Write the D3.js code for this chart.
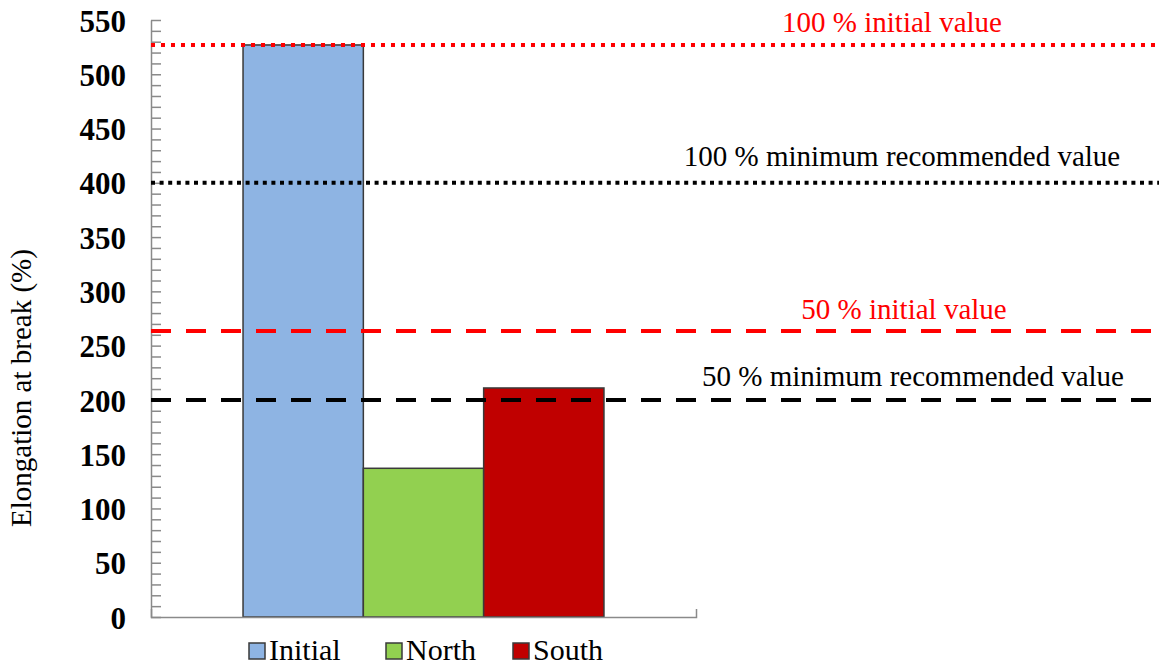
<!DOCTYPE html>
<html>
<head>
<meta charset="utf-8">
<script src="https://cdn.jsdelivr.net/npm/d3@7"></script>
<style>
  html, body { margin: 0; padding: 0; background: #fff; }
  svg { display: block; }
</style>
</head>
<body>
<svg id="chart" width="1159" height="667"></svg>
<script>
// ---- data ----
const categories = ["Initial", "North", "South"];
const values = [527, 137, 211];
const refLabels = ["100 % initial value", "100 % minimum recommended value", "50 % initial value", "50 % minimum recommended value"];
const refValues = [527, 400, 263.5, 200];
const yTickLabels = [0, 50, 100, 150, 200, 250, 300, 350, 400, 450, 500, 550];
const yTitle = "Elongation at break (%)";

// ---- font detection (pick an installed Times-like serif) ----
function pickFont(cands) {
  const c = document.createElement("canvas").getContext("2d");
  const s = "mmmmmmmmmmlli100 % WwQq";
  const base = {};
  ["monospace", "sans-serif"].forEach(b => { c.font = "40px " + b; base[b] = c.measureText(s).width; });
  for (const f of cands) {
    let ok = false;
    for (const b of ["monospace", "sans-serif"]) {
      c.font = `40px "${f}", ${b}`;
      if (Math.abs(c.measureText(s).width - base[b]) > 0.5) ok = true;
    }
    if (ok) return `"${f}"`;
  }
  return "serif";
}
const FONT = pickFont(["Liberation Serif", "Tinos", "Times New Roman", "Nimbus Roman", "Nimbus Roman No9 L", "Noto Serif", "DejaVu Serif"]);

// ---- styles / layout ----
const barColors = ["#8EB4E3", "#92D050", "#C00000"];
const refColors = ["#FF0000", "#000000", "#FF0000", "#000000"];
const refDash = ["4,6", "4,4.6", "20,15", "20,15"];
const refLabelX = [892, 902, 904, 913];
const refLabelDy = [13, 17, 12, 14];

const W = 1159, H = 667;
const pLeft = 151, pRight = 696, pTop = 20, pBottom = 617;
const svg = d3.select("#chart").style("font-family", FONT);

const y = d3.scaleLinear().domain([0, 550]).range([pBottom, pTop]);
const x = d3.scaleBand().domain(categories).range([pLeft, pRight]).paddingInner(0).paddingOuter(0.765);

// bars
svg.append("g").selectAll("rect").data(categories).join("rect")
  .attr("x", d => x(d))
  .attr("y", (d, i) => y(values[i]))
  .attr("width", x.bandwidth())
  .attr("height", (d, i) => y(0) - y(values[i]))
  .attr("fill", (d, i) => barColors[i])
  .attr("stroke", "#3a3a3a")
  .attr("stroke-width", 1.5);

// y axis minor/major ticks (inside)
const yMinor = d3.range(0, 551, 10);
const yAx = svg.append("g").attr("transform", `translate(${pLeft},0)`)
  .call(d3.axisRight(y).tickValues(yMinor).tickSize(10).tickSizeOuter(0).tickFormat(""));
yAx.selectAll("line, path").attr("stroke", "#8a8a8a").attr("stroke-width", 1.5);

// y axis labels
const yLab = svg.append("g").attr("transform", `translate(${pLeft},0)`)
  .call(d3.axisLeft(y).tickValues(yTickLabels).tickSize(0).tickPadding(25));
yLab.attr("font-family", null);
yLab.select(".domain").remove();
yLab.selectAll("text")
  .style("font-family", FONT)
  .attr("font-size", 31).attr("font-weight", "bold").attr("fill", "#000")
  .attr("dy", "0.36em");

// x axis
const xLin = d3.scaleLinear().domain([0, 1]).range([pLeft, pRight]);
const xAx = svg.append("g").attr("transform", `translate(0,${pBottom})`)
  .call(d3.axisBottom(xLin).tickValues([]).tickSizeOuter(-8));
xAx.selectAll("path").attr("stroke", "#8a8a8a").attr("stroke-width", 1.5);

// reference lines
svg.append("g").selectAll("line").data(refValues).join("line")
  .attr("x1", pLeft).attr("x2", W)
  .attr("y1", d => y(d)).attr("y2", d => y(d))
  .attr("stroke", (d, i) => refColors[i])
  .attr("stroke-width", 4)
  .attr("stroke-dasharray", (d, i) => refDash[i]);

svg.append("g").selectAll("text").data(refLabels).join("text")
  .attr("x", (d, i) => refLabelX[i])
  .attr("y", (d, i) => y(refValues[i]) - refLabelDy[i])
  .attr("text-anchor", "middle")
  .attr("font-size", 29)
  .attr("fill", (d, i) => refColors[i])
  .text(d => d);

// y title
svg.append("text")
  .attr("transform", "translate(31,388) rotate(-90)")
  .attr("text-anchor", "middle")
  .attr("font-size", 29)
  .attr("fill", "#000")
  .text(yTitle);

// legend
const legX = [249, 386, 513];
const leg = svg.append("g").selectAll("g").data(categories).join("g")
  .attr("transform", (d, i) => `translate(${legX[i]},0)`);
leg.append("rect").attr("x", 0).attr("y", 643).attr("width", 16).attr("height", 16)
  .attr("fill", (d, i) => barColors[i]).attr("stroke", "#3a3a3a").attr("stroke-width", 1.5);
leg.append("text").attr("x", 20).attr("y", 660).attr("font-size", 30).attr("fill", "#000").text(d => d);
</script>
</body>
</html>
